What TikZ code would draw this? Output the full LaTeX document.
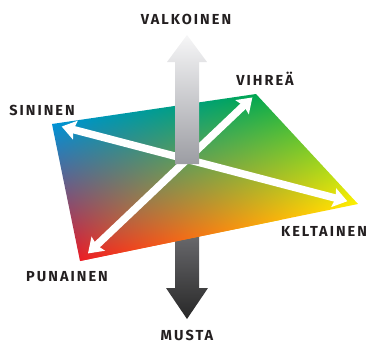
\documentclass[tikz,border=0pt]{standalone}
\usepackage{fontspec}
\usepackage{tikz}
\usetikzlibrary{arrows.meta,calc,shadings}
\setmainfont{Fira Sans}
\newfontfamily\lblfont{Fira Sans}[LetterSpace=14]
\definecolor{txtclr}{RGB}{35,31,32}
\definecolor{blueclr}{RGB}{0,146,214}
\definecolor{greenclr}{RGB}{0,166,81}
\definecolor{yellowclr}{RGB}{255,240,0}
\definecolor{redclr}{RGB}{237,28,36}
\definecolor{whitetop}{RGB}{246,246,247}
\definecolor{whitebot}{RGB}{156,157,163}
\definecolor{blacktop}{RGB}{112,112,116}
\definecolor{blackbot}{RGB}{40,40,40}
\tikzset{
  lbl/.style={anchor=base,inner sep=0pt,text=txtclr,
              font=\lblfont\bfseries\fontsize{14.5}{15}\selectfont},
  plane/.style={lower left=redclr,lower right=yellowclr,
                upper left=blueclr,upper right=greenclr},
  huearrow/.style={white,line width=7.5pt,
    {Stealth[length=14pt,width=19pt,inset=2pt]}-{Stealth[length=14pt,width=19pt,inset=2pt]}},
}

\begin{document}
\begin{tikzpicture}[x=1pt,y=-1pt]
\useasboundingbox (0,0) rectangle (372,343);
\coordinate (blue) at (52,124);
\coordinate (green) at (256,94);
\coordinate (yellow) at (358,204);
\coordinate (red) at (80,261);

% black end, behind the plane
\shade[top color=blacktop,bottom color=blackbot]
  (175,225) -- (175,288) -- (166,288) -- (187,319) -- (208,288)
  -- (199,288) -- (199,225) -- cycle;

% colour plane: two triangles, each an affine image of the square
\begin{scope}
  \clip (blue) -- (green) -- (yellow) -- (red) -- cycle;
  \begin{scope}[transform canvas={cm={2.04,0.30,-0.28,1.37,(80,261)}}]
    \shade[plane] (0pt,0pt) rectangle (100pt,100pt);
  \end{scope}
  \begin{scope}[transform canvas={cm={2.78,0.57,-1.02,1.10,(80,261)}}]
    \clip (0pt,0pt) -- (100pt,0pt) -- (100pt,100pt) -- cycle;
    \shade[plane] (0pt,0pt) rectangle (100pt,100pt);
  \end{scope}
\end{scope}

\coordinate (bluetip) at ($(blue)!10pt!(yellow)$);
\coordinate (yellowtip) at ($(yellow)!11pt!(blue)$);
\coordinate (redtip) at ($(red)!11pt!(green)$);
\coordinate (greentip) at ($(green)!5pt!(red)$);
\draw[huearrow] (bluetip) -- (yellowtip);
\draw[huearrow] (redtip) -- (greentip);

% white end, in front
\shade[top color=whitetop,bottom color=whitebot]
  (175,164) -- (175,62) -- (167,62) -- (187,35) -- (207,62)
  -- (199,62) -- (199,164) -- cycle;

\node[lbl] (valkoinen) at (186,24.5) {VALKOINEN};
\node[lbl] (vihrea) at (265,85) {VIHREÄ};
\node[lbl] (sininen) at (42,115) {SININEN};
\node[lbl] (keltainen) at (324,236.5) {KELTAINEN};
\node[lbl] (punainen) at (67,281.5) {PUNAINEN};
\node[lbl] (musta) at (187,340.5) {MUSTA};
\end{tikzpicture}
\end{document}
